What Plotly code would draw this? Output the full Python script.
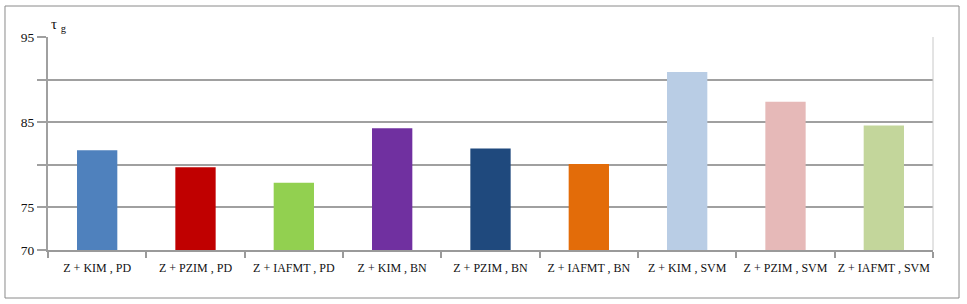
import plotly.graph_objects as go

categories = ["Z + KIM , PD", "Z + PZIM , PD", "Z + IAFMT , PD",
              "Z + KIM , BN", "Z + PZIM , BN", "Z + IAFMT , BN",
              "Z + KIM , SVM", "Z + PZIM , SVM", "Z + IAFMT , SVM"]
values = [81.7, 79.7, 77.9, 84.3, 81.9, 80.1, 90.9, 87.4, 84.6]
colors = ["#4F81BD", "#C00000", "#92D050", "#7030A0", "#1F497D",
          "#E36C09", "#B9CDE5", "#E6B9B8", "#C3D69B"]
ytick_vals = [70, 75, 80, 85, 90, 95]
ytick_text = ["70", "75", "", "85", "", "95"]

font_family = "Liberation Serif"

fig = go.Figure(go.Bar(
    x=categories, y=values, marker=dict(color=colors, line=dict(width=0)),
    width=0.41,
))

fig.update_layout(
    width=967, height=304,
    margin=dict(l=48, r=34, t=37, b=54),
    paper_bgcolor="white", plot_bgcolor="white",
    showlegend=False,
    font=dict(family=font_family, size=12, color="#111"),
    xaxis=dict(
        type="category", tickson="boundaries", ticks="outside", ticklen=6,
        tickcolor="#9a9a9a", tickwidth=2, showline=True, linecolor="#9a9a9a",
        linewidth=2, showgrid=False, tickfont=dict(size=12, family=font_family),
        tickangle=0, ticklabelstandoff=6,
    ),
    yaxis=dict(
        range=[70, 95], tickvals=ytick_vals, ticktext=ytick_text,
        ticks="outside", ticklen=9, tickcolor="#a0a0a0", tickwidth=2,
        showgrid=True, gridcolor="#a0a0a0", gridwidth=2,
        showline=True, linecolor="#a0a0a0", linewidth=2, zeroline=False,
        tickfont=dict(size=13.5, family=font_family),
    ),
    shapes=[
        dict(type="rect", xref="paper", yref="paper",
             x0=-0.0486, x1=1.0294, y0=-0.2254, y1=1.1455,
             line=dict(color="#8a8a8a", width=1), fillcolor="rgba(0,0,0,0)",
             layer="below"),
        dict(type="line", xref="paper", yref="paper", x0=1, x1=1, y0=0, y1=1,
             line=dict(color="#c8c8c8", width=1)),
    ],
    annotations=[
        dict(text="τ <sub>g</sub>", xref="paper", yref="paper",
             x=0.001, y=1.005, xanchor="left", yanchor="bottom",
             showarrow=False, font=dict(size=15, family=font_family, color="#111")),
    ],
)

fig.write_html("out.html")
